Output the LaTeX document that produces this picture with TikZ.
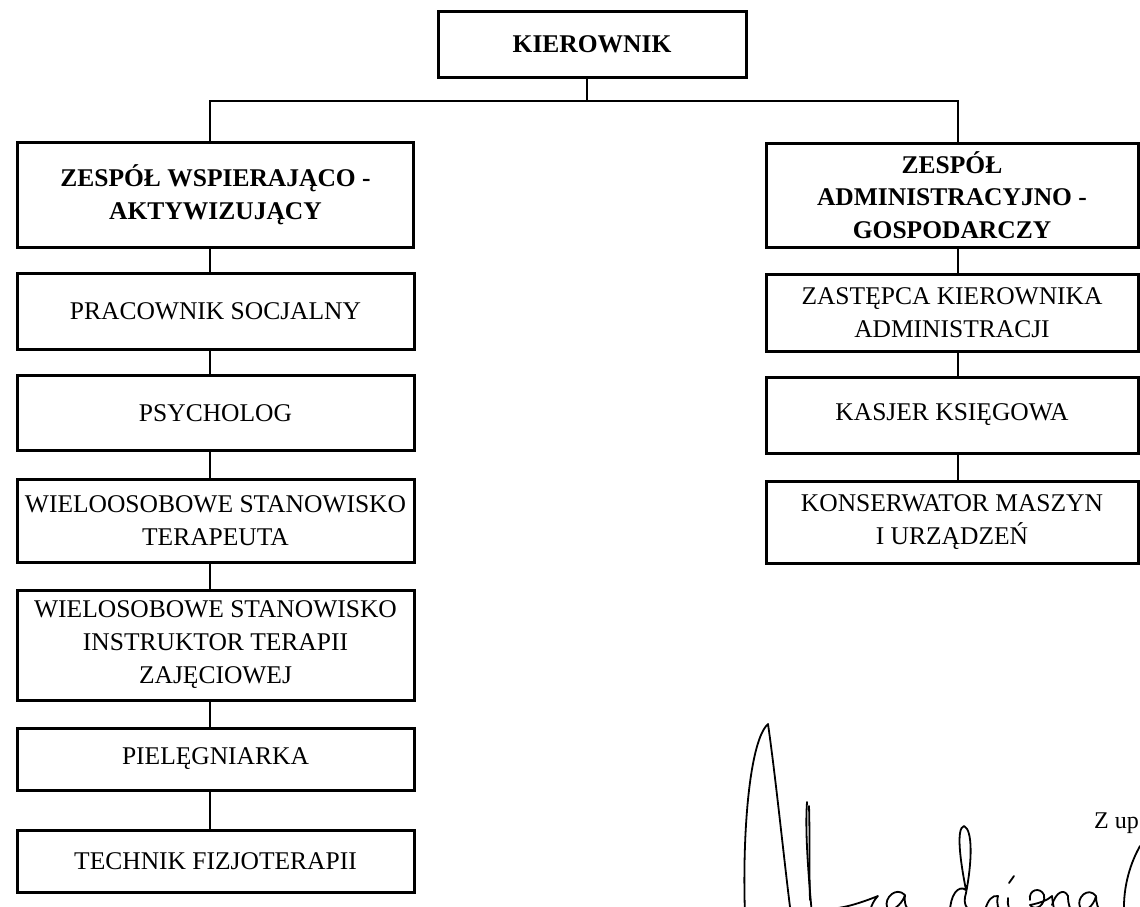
\documentclass[tikz,border=0pt]{standalone}
\usepackage{fontspec}
\setmainfont{Liberation Serif}
\begin{document}
\begin{tikzpicture}[x=1pt,y=-1pt,
  box/.style={draw=black, line width=3pt, rectangle, inner sep=0pt, align=center,
     font=\fontsize{25.5}{33}\selectfont},
  hbox/.style={box, font=\fontsize{25.5}{32.5}\selectfont\bfseries},
  link/.style={draw=black, line width=2.4pt},
  sig/.style={draw=black, line width=1.8pt, line cap=round, line join=round}]
\useasboundingbox (0,0) rectangle (1140,907);
\clip (0,0) rectangle (1140,907);
% top
\node[hbox, minimum width=308pt, minimum height=65pt] (boss) at (592,44.5) {KIEROWNIK};
% left column
\node[hbox, minimum width=396pt, minimum height=105pt] (L0) at (215.5,194.5) {ZESPÓŁ WSPIERAJĄCO -\\AKTYWIZUJĄCY};
\node[box, minimum width=397pt, minimum height=76pt] (L1) at (215.5,311) {PRACOWNIK SOCJALNY};
\node[box, minimum width=397pt, minimum height=75pt] (L2) at (215.5,413) {PSYCHOLOG};
\node[box, minimum width=397pt, minimum height=83pt] (L3) at (215.5,520.5) {WIELOOSOBOWE STANOWISKO\\TERAPEUTA};
\node[box, minimum width=397pt, minimum height=110pt] (L4) at (215.5,645) {WIELOSOBOWE STANOWISKO\\INSTRUKTOR TERAPII\\ZAJĘCIOWEJ};
\node[box, minimum width=397pt, minimum height=62pt] (L5) at (215.5,759) {PIELĘGNIARKA};
\node[box, minimum width=397pt, minimum height=62pt] (L6) at (215.5,861) {TECHNIK FIZJOTERAPII};
% right column
\node[hbox, minimum width=372pt, minimum height=104pt] (R0) at (952,195) {ZESPÓŁ\\ADMINISTRACYJNO -\\GOSPODARCZY};
\node[box, minimum width=372pt, minimum height=77pt] (R1) at (952,312.5) {ZASTĘPCA KIEROWNIKA\\ADMINISTRACJI};
\node[box, minimum width=372pt, minimum height=76pt] (R2) at (952,415) {KASJER KSIĘGOWA};
\node[box, minimum width=372pt, minimum height=82pt] (R3) at (952,522) {KONSERWATOR MASZYN\\I URZĄDZEŃ};
% connector columns
\coordinate (lx) at (210,0);
\coordinate (rx) at (958,0);
\coordinate (bar) at (587,101);
\draw[link] (boss.south -| bar) -- (bar);
\draw[link] (L0.north -| lx) |- (bar) -| (R0.north -| rx);
\draw[link] (L0.south -| lx) -- (L1.north -| lx);
\draw[link] (L1.south -| lx) -- (L2.north -| lx);
\draw[link] (L2.south -| lx) -- (L3.north -| lx);
\draw[link] (L3.south -| lx) -- (L4.north -| lx);
\draw[link] (L4.south -| lx) -- (L5.north -| lx);
\draw[link] (L5.south -| lx) -- (L6.north -| lx);
\draw[link] (R0.south -| rx) -- (R1.north -| rx);
\draw[link] (R1.south -| rx) -- (R2.north -| rx);
\draw[link] (R2.south -| rx) -- (R3.north -| rx);
% stamp text
\node[anchor=base west, inner sep=0pt, font=\fontsize{24}{24}\selectfont] (zup) at (1094,828) {Z up};
% signature
\draw[sig] (745,915) .. controls (742,830) and (750,740) .. (768,724) .. controls (776,780) and (784,860) .. (791,915);
\draw[sig] (807,802) .. controls (805,830) and (808,870) .. (812,915);
\draw[sig] (809,806) .. controls (810,840) and (809,870) .. (810,900);
\draw[sig] (838,908) .. controls (852,906) and (868,900) .. (878,896) .. controls (872,902) and (870,910) .. (869,915);
\draw[sig] (905,895) .. controls (896,886) and (884,898) .. (887,907) .. controls (890,914) and (902,905) .. (905,895) .. controls (904,903) and (906,910) .. (912,912);
\draw[sig] (950,912) .. controls (950,896) and (958,884) .. (966,890) .. controls (960,860) and (956,828) .. (964,826) .. controls (973,830) and (972,862) .. (966,893) .. controls (962,905) and (968,912) .. (975,910);
\draw[sig] (985,910) .. controls (988,900) and (992,895) .. (998,896) .. controls (996,904) and (998,910) .. (1003,912);
\draw[sig] (1009,883) -- (1014,876);
\draw[sig] (1008,898) .. controls (1007,905) and (1009,912) .. (1014,912);
\draw[sig] (1030,900) .. controls (1028,890) and (1040,886) .. (1044,895) .. controls (1046,905) and (1035,912) .. (1030,905) .. controls (1040,903) and (1048,900) .. (1052,896) .. controls (1053,905) and (1054,910) .. (1056,915);
\draw[sig] (1052,905) .. controls (1056,892) and (1064,888) .. (1068,896) .. controls (1068,905) and (1070,910) .. (1074,912);
\draw[sig] (1096,896) .. controls (1088,886) and (1076,898) .. (1080,907) .. controls (1084,914) and (1094,906) .. (1096,896) .. controls (1096,903) and (1098,910) .. (1102,912);
\draw[sig] (1124,913) .. controls (1123,885) and (1131,862) .. (1140,846);
\end{tikzpicture}
\end{document}
